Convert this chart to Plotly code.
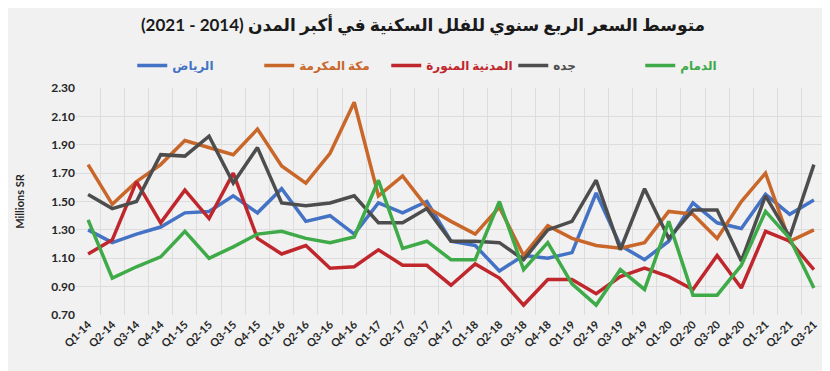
import plotly.graph_objects as go

quarters = ["Q1-14","Q2-14","Q3-14","Q4-14","Q1-15","Q2-15","Q3-15","Q4-15",
            "Q1-16","Q2-16","Q3-16","Q4-16","Q1-17","Q2-17","Q3-17","Q4-17",
            "Q1-18","Q2-18","Q3-18","Q4-18","Q1-19","Q2-19","Q3-19","Q4-19",
            "Q1-20","Q2-20","Q3-20","Q4-20","Q1-21","Q2-21","Q3-21"]

riyadh = [1.30,1.21,1.27,1.32,1.42,1.43,1.54,1.42,1.59,1.36,1.40,1.27,1.49,1.42,1.50,1.22,
          1.19,1.01,1.12,1.10,1.14,1.56,1.19,1.09,1.22,1.49,1.35,1.31,1.55,1.41,1.51]
makkah = [1.76,1.48,1.64,1.76,1.93,1.88,1.83,2.01,1.75,1.63,1.84,2.20,1.54,1.68,1.46,1.36,
          1.27,1.46,1.12,1.33,1.24,1.19,1.17,1.21,1.43,1.41,1.24,1.50,1.70,1.22,1.30]
madinah = [1.13,1.23,1.64,1.35,1.58,1.38,1.70,1.24,1.13,1.19,1.03,1.04,1.16,1.05,1.05,0.91,
           1.06,0.96,0.77,0.95,0.95,0.85,0.97,1.03,0.97,0.88,1.12,0.89,1.29,1.22,1.02]
jeddah = [1.55,1.45,1.50,1.83,1.82,1.96,1.63,1.88,1.49,1.47,1.49,1.54,1.35,1.35,1.45,1.22,
          1.22,1.21,1.09,1.30,1.36,1.65,1.16,1.59,1.24,1.44,1.44,1.08,1.54,1.25,1.76]
dammam = [1.37,0.96,1.04,1.11,1.29,1.10,1.18,1.27,1.29,1.24,1.21,1.25,1.65,1.17,1.22,1.09,
          1.09,1.50,1.02,1.21,0.92,0.77,1.02,0.88,1.36,0.84,0.84,1.05,1.43,1.24,0.89]

series = [
    ("الرياض", riyadh, "#4472C4"),
    ("مكة المكرمة", makkah, "#C9672A"),
    ("المدنية المنورة", madinah, "#C0272D"),
    ("جده", jeddah, "#4D4D4D"),
    ("الدمام", dammam, "#3FAA48"),
]

title_text = "متوسط السعر الربع سنوي للفلل السكنية في أكبر المدن (2014 - 2021)"
y_title = "Millions SR"

FONT = "Lato, DejaVu Sans, sans-serif"

fig = go.Figure()
for name, vals, color in series:
    fig.add_trace(go.Scatter(
        x=quarters, y=vals, mode="lines", name=f"<span style='color:{color}'>{name}</span>",
        line=dict(color=color, width=3.5),
    ))

fig.update_layout(
    width=830, height=371,
    margin=dict(l=68, r=12, t=80, b=64),
    paper_bgcolor="#F1F1F1",
    plot_bgcolor="#F1F1F1",
    font=dict(family=FONT, color="#262626"),
    title=dict(text=f"<b>{title_text}</b>", x=0.5, xanchor="center", y=0.955, yanchor="middle",
               font=dict(size=17, color="#1a1a1a", family=FONT)),
    legend=dict(orientation="h", x=0.075, xanchor="left", y=1.035, yanchor="bottom",
                entrywidth=82, entrywidthmode="pixels", itemwidth=30,
                font=dict(size=12, family=FONT, weight="bold"),
                bgcolor="rgba(0,0,0,0)"),
    showlegend=True,
)

fig.update_xaxes(
    type="category", categoryorder="array", categoryarray=quarters,
    range=[-0.5, len(quarters) - 0.5],
    tickson="boundaries", showgrid=True, gridcolor="#DDDDDD", gridwidth=1,
    tickangle=-45, tickfont=dict(size=11, family=FONT, weight="bold", color="#262626"),
    ticks="", showline=False, zeroline=False,
)
fig.update_yaxes(
    range=[0.70, 2.30], dtick=0.2, tick0=0.70, tickformat=".2f",
    showgrid=True, gridcolor="#DDDDDD", gridwidth=1, zeroline=False,
    tickfont=dict(size=12, family=FONT, weight="bold", color="#262626"),
    title=dict(text=f"<b>{y_title}</b>", font=dict(size=11, family=FONT), standoff=24),
)

fig.write_html("out.html")
